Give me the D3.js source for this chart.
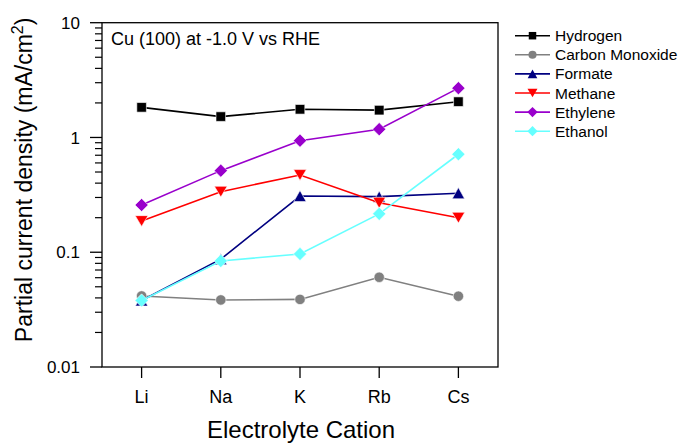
<!DOCTYPE html>
<html><head><meta charset="utf-8">
<script src="https://cdn.jsdelivr.net/npm/d3@7"></script>
<style>body{margin:0;background:#fff}svg{display:block;font-family:Arial,"Liberation Sans",sans-serif}</style>
</head><body>
<svg id="c" width="679" height="445"></svg>
<script>
const categories = ["Li","Na","K","Rb","Cs"];
const seriesNames = ["Hydrogen","Carbon Monoxide","Formate","Methane","Ethylene","Ethanol"];
const hydrogen = [1.83,1.52,1.76,1.73,2.05];
const carbonMonoxide = [0.0416,0.0384,0.0388,0.0605,0.0414];
const formate = [0.038,0.087,0.309,0.305,0.327];
const methane = [0.187,0.337,0.471,0.270,0.200];
const ethylene = [0.258,0.514,0.938,1.18,2.69];
const ethanol = [0.038,0.084,0.0966,0.216,0.714];
const yTickValues = [0.01,0.1,1,10];
const yTickLabels = ["0.01","0.1","1","10"];
const colors = ["#000000","#808080","#000080","#ff0000","#9900cc","#66ffff"];
const shapes = ["square","circle","up","down","diamond","diamond"];
const allValues = [hydrogen,carbonMonoxide,formate,methane,ethylene,ethanol];

function shapePath(s, k){
  const p = d3.path();
  if(s==="square"){ const h=4.8*k; p.rect(-h,-h,2*h,2*h); }
  else if(s==="circle"){ const r=5.2*k; p.moveTo(r,0); p.arc(0,0,r,0,2*Math.PI); }
  else if(s==="up"){ const w=6.2*k,h=5.6*k; p.moveTo(0,-h); p.lineTo(w,h); p.lineTo(-w,h); p.closePath(); }
  else if(s==="down"){ const w=6.4*k,h=5.4*k; p.moveTo(0,h); p.lineTo(w,-h); p.lineTo(-w,-h); p.closePath(); }
  else if(s==="diamond"){ const r=6.6*k; p.moveTo(0,-r); p.lineTo(r,0); p.lineTo(0,r); p.lineTo(-r,0); p.closePath(); }
  return p.toString();
}

const svg = d3.select("#c");
const L=102,R=498,T=22.7,B=367;
const x = d3.scaleBand().domain(categories).range([L,R]);
const cx = d => x(d)+x.bandwidth()/2;
const y = d3.scaleLog().domain([0.01,10]).range([B,T]);

// frame
svg.append("rect").attr("x",L).attr("y",T).attr("width",R-L).attr("height",B-T)
  .attr("fill","none").attr("stroke","#000").attr("stroke-width",1.3);

// y axis
const minor=[];
for(let d=0.01; d<10; d*=10){ for(let k=2;k<=9;k++) minor.push(+(d*k).toPrecision(3)); }
const ya = svg.append("g").attr("transform",`translate(${L},0)`);
ya.selectAll("line.mn").data(minor).join("line").attr("x1",-7).attr("x2",0)
  .attr("y1",d=>y(d)).attr("y2",d=>y(d)).attr("stroke","#000").attr("stroke-width",1.2);
ya.selectAll("line.mj").data(yTickValues).join("line").attr("x1",-12).attr("x2",0)
  .attr("y1",d=>y(d)).attr("y2",d=>y(d)).attr("stroke","#000").attr("stroke-width",1.3);
ya.selectAll("text").data(yTickValues).join("text").attr("x",-22).attr("y",d=>y(d)).attr("dy","0.36em")
  .attr("text-anchor","end").attr("font-size",17).text((d,i)=>yTickLabels[i]);

// x axis
const xa = svg.append("g");
xa.selectAll("line").data(categories).join("line")
  .attr("x1",cx).attr("x2",cx)
  .attr("y1",B).attr("y2",B+11).attr("stroke","#000").attr("stroke-width",1.3);
xa.selectAll("text").data(categories).join("text")
  .attr("x",cx).attr("y",403).attr("text-anchor","middle")
  .attr("font-size",18).text(d=>d);

// titles
svg.append("text").attr("x",301).attr("y",438).attr("text-anchor","middle").attr("font-size",24).text("Electrolyte Cation");
svg.append("text").attr("transform",`translate(32,${(T+B)/2 - 15}) rotate(-90)`).attr("text-anchor","middle")
  .attr("font-size",23).html('Partial current density (mA/cm<tspan dy="-9" font-size="16">2</tspan><tspan dy="9">)</tspan>');
svg.append("text").attr("x",111).attr("y",45).attr("font-size",18).text("Cu (100) at -1.0 V vs RHE");

const line = d3.line().x((d,i)=>cx(categories[i])).y(d=>y(d));
allValues.forEach((vals,i)=>{
  const g = svg.append("g");
  g.append("path").attr("d",line(vals)).attr("fill","none").attr("stroke",colors[i]).attr("stroke-width",1.6);
  g.selectAll("path.m").data(vals).join("path").attr("class","m")
    .attr("d",shapePath(shapes[i],1)).attr("transform",(d,j)=>`translate(${cx(categories[j])},${y(d)})`)
    .attr("fill",colors[i]).attr("stroke","#fff").attr("stroke-width",0.6);
});

// legend
const lg = svg.append("g");
seriesNames.forEach((n,i)=>{
  const yy = 35.7 + i*19.1;
  lg.append("line").attr("x1",515).attr("x2",550).attr("y1",yy).attr("y2",yy).attr("stroke",colors[i]).attr("stroke-width",1.6);
  lg.append("path").attr("d",shapePath(shapes[i],0.78))
    .attr("transform",`translate(532.5,${yy})`).attr("fill",colors[i]);
  lg.append("text").attr("x",555).attr("y",yy).attr("dy","0.36em").attr("font-size",15.5).text(n);
});
</script>
</body></html>
